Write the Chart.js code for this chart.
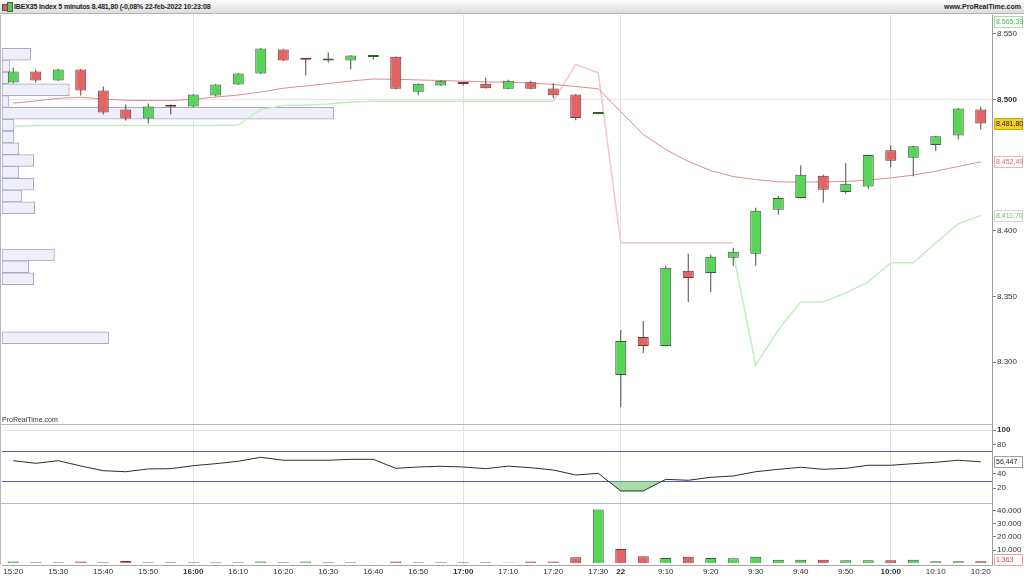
<!DOCTYPE html>
<html>
<head>
<meta charset="utf-8">
<script src="https://cdn.jsdelivr.net/npm/chart.js@4.4.1/dist/chart.umd.min.js"></script>
<style>
  body { margin: 0; background: #fff; font-family: "Liberation Sans", Arial, sans-serif; }
  #wrap { position: relative; width: 1024px; height: 576px; overflow: hidden; }
  #hdr { position: absolute; left: 0; top: 0; width: 1024px; height: 13px; background: linear-gradient(#fcfcfc, #dcdcdc); border-bottom: 1px solid #b4b4b4; font-size: 7px; font-weight: bold; color: #1e1e1e; line-height: 13px; z-index: 2; }
  #hdr .title { position: absolute; left: 14px; top: 0; letter-spacing: -0.15px; }
  #hdr .site { position: absolute; right: 3px; top: 0; }
  #hdr i { position: absolute; width: 4px; border: 1px solid #555; }
  #prt { position: absolute; left: 2px; top: 416px; font-size: 7px; color: #333; }
</style>
</head>
<body>
<div id="wrap">
  <canvas id="chart" width="1024" height="576"></canvas>
  <div id="hdr">
    <i style="left:2px;top:4px;height:5px;background:#e35c5c"></i>
    <i style="left:7px;top:2px;height:8px;background:#4fcf4f"></i>
    <span class="title">IBEX35 Index 5 minutos 8.481,80 (-0,08% 22-feb-2022 10:23:08</span>
    <span class="site">www.ProRealTime.com</span>
  </div>
  <div id="prt">ProRealTime.com</div>
</div>
<script>
const timeLabels = ['15:20','15:25','15:30','15:35','15:40','15:45','15:50','15:55',
  '16:00','16:05','16:10','16:15','16:20','16:25','16:30','16:35','16:40','16:45','16:50','16:55',
  '17:00','17:05','17:10','17:15','17:20','17:25','17:30',
  '9:00','9:05','9:10','9:15','9:20','9:25','9:30','9:35','9:40','9:45','9:50','9:55',
  '10:00','10:05','10:10','10:15','10:20'];
const dayLabel = '22';
const sessionStart = '9:00';

const opens  = [8513.0, 8521.4, 8514.5, 8522.9, 8506.9, 8492.4, 8485.5, 8494.7, 8494.7, 8503.1, 8511.5,
  8519.8, 8538.2, 8530.5, 8529.8, 8529.8, 8532.4, 8532.6, 8505.9, 8510.7, 8512.0, 8512.0, 8508.2,
  8513.2, 8508.4, 8503.8, 8489.0, 8290.1, 8319.1, 8312.2, 8369.5, 8367.9, 8379.4, 8382.4, 8416.0,
  8425.0, 8442.0, 8429.5, 8433.8, 8461.3, 8455.7, 8465.4, 8472.5, 8492.4];
const highs  = [8524.4, 8522.9, 8523.4, 8523.2, 8509.9, 8496.2, 8496.9, 8496.2, 8504.0, 8511.8, 8520.2,
  8539.2, 8538.6, 8530.8, 8535.9, 8533.8, 8533.8, 8532.8, 8512.2, 8514.6, 8513.2, 8516.6, 8515.0,
  8514.3, 8512.4, 8504.0, 8489.6, 8324.4, 8331.3, 8373.3, 8382.4, 8381.7, 8387.0, 8417.6, 8426.7,
  8449.8, 8442.7, 8451.7, 8458.0, 8465.1, 8464.6, 8472.3, 8493.4, 8494.4];
const lows   = [8512.2, 8513.0, 8514.3, 8503.1, 8488.5, 8484.0, 8481.7, 8488.5, 8494.5, 8502.3, 8511.0,
  8519.5, 8529.4, 8518.3, 8528.2, 8522.9, 8530.5, 8507.9, 8503.3, 8510.5, 8510.7, 8508.4, 8507.9,
  8507.9, 8501.0, 8484.2, 8488.8, 8265.6, 8306.9, 8311.8, 8345.8, 8353.4, 8373.3, 8373.3, 8412.2,
  8424.8, 8421.6, 8428.2, 8432.1, 8448.3, 8441.5, 8460.5, 8469.5, 8477.1];
const closes = [8521.4, 8514.5, 8522.9, 8506.9, 8490.1, 8485.5, 8494.7, 8494.4, 8503.8, 8511.5, 8519.8,
  8538.9, 8529.8, 8530.3, 8530.0, 8533.6, 8532.7, 8508.2, 8512.0, 8514.3, 8511.8, 8508.6, 8514.3,
  8508.2, 8503.3, 8486.0, 8489.3, 8316.0, 8312.2, 8371.8, 8364.1, 8380.2, 8384.0, 8415.3, 8425.0,
  8442.7, 8431.3, 8435.9, 8457.8, 8453.4, 8464.4, 8472.0, 8493.1, 8481.8];

const volumes = [1200, 600, 600, 1200, 600, 1600, 600, 600, 600, 600, 600, 1200, 600, 1200, 600, 600,
  300, 1200, 600, 600, 600, 600, 500, 1200, 1200, 4500, 41000, 10800, 5300, 3800, 4800, 3800, 3600,
  4800, 2500, 2500, 2500, 2100, 2100, 2100, 2500, 1400, 1400, 1363];

const rsiValues = [58.0, 54.4, 58.0, 50.7, 44.2, 42.8, 46.6, 47.0, 51.1, 53.9, 57.2, 62.7, 58.6, 58.6,
  58.6, 59.9, 59.9, 47.5, 49.3, 50.3, 49.3, 47.0, 50.5, 48.3, 45.2, 38.3, 40.6, 16.2, 16.2, 32.3,
  31.0, 35.1, 36.9, 42.8, 46.1, 48.9, 46.1, 47.5, 51.7, 51.7, 53.9, 55.8, 58.6, 56.447];

const maValues = [8497.3, 8498.9, 8500.9, 8501.7, 8500.4, 8499.4, 8499.2, 8499.2, 8500.2, 8501.9,
  8503.4, 8505.7, 8508.6, 8510.3, 8512.2, 8514.1, 8515.6, 8515.4, 8514.9, 8514.5, 8514.0, 8513.5,
  8513.1, 8512.6, 8511.5, 8509.9, 8508.2, 8490.8, 8473.3, 8461.9, 8452.8, 8445.9, 8441.3, 8439.0,
  8437.3, 8437.1, 8437.3, 8437.5, 8438.7, 8440.3, 8442.4, 8445.4, 8449.0, 8452.49];

const stopLong = [8479.4, 8480.2, 8480.2, 8480.2, 8480.2, 8480.2, 8480.2, 8480.2, 8480.2, 8480.2,
  8480.5, 8492.4, 8495.4, 8495.8, 8496.6, 8498.1, 8498.7, 8498.7, 8498.7, 8498.7, 8498.7, 8498.7,
  8498.7, 8498.7, 8498.7, null, null, null, null, null, null, null, 8383.2, 8297.7, 8324.4, 8345.8,
  8345.8, 8352.7, 8361.1, 8375.6, 8375.6, 8390.8, 8405.3, 8411.7];
const stopShort = [null, null, null, null, null, null, null, null, null, null, null, null, null, null,
  null, null, null, null, null, null, null, null, null, null, 8498.7, 8526.7, 8520.4, 8390.8, 8390.8,
  8390.8, 8390.8, 8390.8, 8390.8, null, null, null, null, null, null, null, null, null, null, null];
const upperBand = [null, null, null, null, null, null, null, null, null, null, null, null, null, null,
  null, null, null, null, null, null, null, null, null, null, null, null, null, null, null, null,
  null, null, null, null, null, null, null, null, null, null, null, 8567.2, 8566.2, 8565.39];

const profilePrices = [8534.5, 8525.5, 8516.5, 8507.5, 8498.5, 8489.5, 8480.5, 8471.5, 8462.5, 8453.5,
  8444.5, 8435.5, 8426.5, 8417.5, 8381.5, 8372.5, 8363.5, 8318.5];
const profileVolumes = [2.9, 0.8, 0.7, 6.8, 0.7, 33.5, 1.2, 1.2, 1.7, 3.2, 1.7, 3.2, 2.0, 3.3, 5.3, 2.7,
  3.2, 10.8];

const priceTicks = [8300, 8350, 8400, 8500, 8550];
const rsiTicks = [20, 30, 40, 70, 80, 100];
const rsiBands = [30, 70];
const volTicks = [10000, 20000, 30000, 40000];

const PRICE_MIN = 8252, PRICE_MAX = 8564.4;
const W_PRICE = 410, W_RSI = 79, W_VOL = 61;

const FONT = '"Liberation Sans", Arial, sans-serif';
const UP = '#58d458', DOWN = '#e36464';
const UP_EDGE = '#2f5f2f', DOWN_EDGE = '#703232';
const last = closes.length - 1;

function fmt(v, dec) {
  const parts = v.toFixed(dec).split('.');
  parts[0] = parts[0].replace(/\B(?=(\d{3})+(?!\d))/g, '.');
  return parts.join(',');
}

function isHour(i) {
  return timeLabels[i] && timeLabels[i].endsWith(':00');
}

function tickText(i) {
  const lbl = timeLabels[i];
  if (+lbl.split(':')[1] % 10 !== 0) return '';
  return lbl === sessionStart ? dayLabel : lbl;
}

const bodyUp = opens.map((o, i) => closes[i] >= o);
const volUp = closes.map((c, i) => c >= (i ? closes[i - 1] : opens[i]));

// profile axis spans all panes, so stretch the price range to the full height
const profMin = PRICE_MAX - (PRICE_MAX - PRICE_MIN) * (W_PRICE + W_RSI + W_VOL) / W_PRICE;

// last values shown in boxes on the right axis
const valueBoxes = [
  { axis: 'y', value: upperBand[last], text: fmt(upperBand[last], 2), color: '#4eb04e', bg: '#fff', border: '#a6dca6' },
  { axis: 'y', value: closes[last], text: fmt(closes[last], 2), color: '#222', bg: '#f3d022', border: '#c9a900' },
  { axis: 'y', value: maValues[last], text: fmt(maValues[last], 2), color: '#d46a6a', bg: '#fff', border: '#ebb3b3' },
  { axis: 'y', value: stopLong[last], text: fmt(stopLong[last], 2), color: '#70c070', bg: '#fff', border: '#bfe2bf' },
  { axis: 'yRsi', value: rsiValues[last], text: fmt(rsiValues[last], 3), color: '#222', bg: '#fff', border: '#a0a0a0' },
  { axis: 'yVol', value: volumes[last], text: fmt(volumes[last], 0), color: '#d04a4a', bg: '#fff', border: '#e8a4a4' }
];

const panelLines = {
  id: 'panelLines',
  beforeDatasetsDraw(chart) {
    const { ctx, chartArea: a, scales } = chart;
    ctx.save();
    ctx.strokeStyle = '#b8b8b8';
    ctx.lineWidth = 1;
    [scales.y.bottom, scales.yRsi.bottom].forEach(y => {
      const yy = Math.round(y) - 0.5;
      ctx.beginPath();
      ctx.moveTo(0, yy);
      ctx.lineTo(a.right, yy);
      ctx.stroke();
    });
    ctx.beginPath();
    ctx.moveTo(0.5, a.top);
    ctx.lineTo(0.5, a.bottom);
    ctx.stroke();
    ctx.restore();
  }
};

const axisBoxes = {
  id: 'axisBoxes',
  afterDraw(chart) {
    const ctx = chart.ctx;
    ctx.save();
    ctx.font = '7px ' + FONT;
    ctx.textBaseline = 'middle';
    valueBoxes.forEach(b => {
      const s = chart.scales[b.axis];
      let y = s.getPixelForValue(b.value);
      y = Math.max(s.top + 6, Math.min(s.bottom - 6, y));
      const x0 = s.left + 2, w = s.right - s.left - 3, h = 11;
      const top = Math.round(y - h / 2) + 0.5;
      ctx.fillStyle = b.bg;
      ctx.fillRect(x0, top, w, h);
      ctx.strokeStyle = b.border;
      ctx.strokeRect(x0 + 0.5, top, w - 1, h);
      ctx.fillStyle = b.color;
      ctx.fillText(b.text, x0 + 2, top + h / 2 + 0.5);
    });
    ctx.restore();
  }
};

const rightAxis = (extra) => Object.assign({
  type: 'linear',
  position: 'right',
  stack: 'panes',
  offset: false,
  afterFit: s => { s.width = 32; },
  border: { display: true, color: '#9c9c9c' }
}, extra);

new Chart(document.getElementById('chart'), {
  type: 'bar',
  data: {
    labels: timeLabels,
    datasets: [
      {
        label: 'body', type: 'bar', yAxisID: 'y', order: 0,
        data: opens.map((o, i) => [o, closes[i]]),
        backgroundColor: bodyUp.map(u => u ? UP : DOWN),
        borderColor: bodyUp.map(u => u ? UP_EDGE : DOWN_EDGE),
        borderWidth: 1, borderSkipped: false, grouped: false,
        maxBarThickness: 11, minBarLength: 2
      },
      {
        label: 'wick', type: 'bar', yAxisID: 'y', order: 1,
        data: lows.map((l, i) => [l, highs[i]]),
        backgroundColor: '#4b4b4b', borderWidth: 0, grouped: false, maxBarThickness: 1
      },
      {
        label: 'volume', type: 'bar', yAxisID: 'yVol', order: 2,
        data: volumes,
        backgroundColor: volUp.map(u => u ? UP : DOWN),
        borderColor: volUp.map(u => u ? UP_EDGE : DOWN_EDGE),
        borderWidth: 1, borderSkipped: 'bottom', grouped: false, maxBarThickness: 11
      },
      {
        label: 'RSI', type: 'line', yAxisID: 'yRsi', order: 3,
        data: rsiValues, borderColor: '#2c2c2c', borderWidth: 1, pointRadius: 0, tension: 0,
        fill: { target: { value: 30 }, above: 'rgba(0,0,0,0)', below: 'rgba(110,196,110,0.6)' }
      },
      {
        label: 'MA', type: 'line', yAxisID: 'y', order: 4,
        data: maValues, borderColor: '#dc8c8c', borderWidth: 1, pointRadius: 0, tension: 0
      },
      {
        label: 'stop long', type: 'line', yAxisID: 'y', order: 5,
        data: stopLong, borderColor: '#c4ecc4', borderWidth: 1.5, pointRadius: 0, spanGaps: false
      },
      {
        label: 'stop short', type: 'line', yAxisID: 'y', order: 5,
        data: stopShort, borderColor: '#f4c6c6', borderWidth: 1.5, pointRadius: 0, spanGaps: false
      },
      {
        label: 'upper', type: 'line', yAxisID: 'y', order: 5, clip: 4,
        data: upperBand, borderColor: '#6acc6a', borderWidth: 1, pointRadius: 0
      },
      {
        label: 'profile', type: 'bar', indexAxis: 'y', xAxisID: 'xProf', yAxisID: 'yProf', order: 9,
        data: profilePrices.map((p, i) => ({ x: profileVolumes[i], y: p })),
        backgroundColor: '#efeffa', borderColor: '#a9a9c0', borderWidth: 1, borderSkipped: false,
        grouped: false, barPercentage: 1, categoryPercentage: 1, maxBarThickness: 12
      }
    ]
  },
  options: {
    responsive: false,
    animation: false,
    layout: { padding: { top: 15, left: 2, right: 0, bottom: 0 } },
    plugins: { legend: { display: false }, tooltip: { enabled: false } },
    scales: {
      x: {
        type: 'category', offset: true,
        afterFit: s => { s.height = 11; },
        grid: {
          offset: false, drawTicks: false,
          color: ctx => isHour(ctx.index) ? '#e2e2e2' : 'rgba(0,0,0,0)'
        },
        border: { display: true, color: '#a8a8a8' },
        ticks: {
          autoSkip: false, maxRotation: 0, padding: 2, color: '#333',
          font: ctx => ({ family: FONT, size: 8, weight: isHour(ctx.index) ? 'bold' : 'normal' }),
          callback: (v, i) => tickText(i)
        }
      },
      xProf: { type: 'linear', axis: 'x', position: 'top', display: false, offset: false, min: 0, max: 100 },
      yProf: { type: 'linear', axis: 'y', position: 'right', display: false, offset: false, min: profMin, max: PRICE_MAX },
      y: rightAxis({
        stackWeight: W_PRICE, min: PRICE_MIN, max: PRICE_MAX,
        afterBuildTicks: s => { s.ticks = priceTicks.map(v => ({ value: v })); },
        grid: {
          offset: false,
          color: ctx => ctx.tick && ctx.tick.value === 8500 ? '#e6e6e6' : 'rgba(0,0,0,0)',
          tickColor: '#808080', tickLength: 4
        },
        ticks: {
          autoSkip: false, padding: 1, color: '#333',
          font: ctx => ({ family: FONT, size: 8, weight: ctx.tick && ctx.tick.value === 8500 ? 'bold' : 'normal' }),
          callback: v => fmt(v, 0)
        }
      }),
      yRsi: rightAxis({
        stackWeight: W_RSI, min: -1.7, max: 107.2,
        afterBuildTicks: s => { s.ticks = rsiTicks.map(v => ({ value: v })); },
        grid: {
          color: ctx => {
            const v = ctx.tick && ctx.tick.value;
            if (rsiBands.includes(v)) return '#5c5cb4';
            return v === 100 ? '#e6e6e6' : 'rgba(0,0,0,0)';
          },
          tickColor: ctx => rsiBands.includes(ctx.tick && ctx.tick.value) ? 'rgba(0,0,0,0)' : '#808080',
          tickLength: 4
        },
        ticks: {
          autoSkip: false, padding: 1, color: '#333',
          font: ctx => ({ family: FONT, size: 8, weight: ctx.tick && ctx.tick.value === 100 ? 'bold' : 'normal' }),
          callback: v => rsiBands.includes(v) ? '' : String(v)
        }
      }),
      yVol: rightAxis({
        stackWeight: W_VOL, min: -1500, max: 45300,
        afterBuildTicks: s => { s.ticks = volTicks.map(v => ({ value: v })); },
        grid: { color: 'rgba(0,0,0,0)', tickColor: '#808080', tickLength: 4 },
        ticks: { autoSkip: false, padding: 1, color: '#333', font: { family: FONT, size: 8 }, callback: v => fmt(v, 0) }
      })
    }
  },
  plugins: [panelLines, axisBoxes]
});
</script>
</body>
</html>
